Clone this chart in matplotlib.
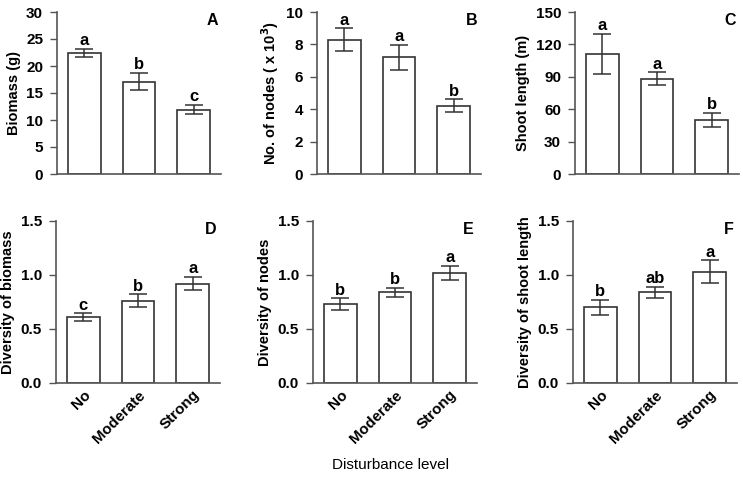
import matplotlib.pyplot as plt
import numpy as np

plt.rcParams['font.family'] = ['Liberation Sans', 'DejaVu Sans']
plt.rcParams['font.weight'] = 'bold'

levels = ['No', 'Moderate', 'Strong']

biomass = [22.4, 17.1, 11.9]
biomass_err = [0.8, 1.6, 0.85]
nodes = [8.3, 7.2, 4.2]
nodes_err = [0.7, 0.78, 0.4]
shoot = [111, 88, 50]
shoot_err = [18.5, 6, 6.5]
div_biomass = [0.61, 0.76, 0.92]
div_biomass_err = [0.035, 0.06, 0.063]
div_nodes = [0.73, 0.84, 1.02]
div_nodes_err = [0.053, 0.042, 0.067]
div_shoot = [0.70, 0.84, 1.03]
div_shoot_err = [0.068, 0.053, 0.105]

letters_A = ['a', 'b', 'c']
letters_B = ['a', 'a', 'b']
letters_C = ['a', 'a', 'b']
letters_D = ['c', 'b', 'a']
letters_E = ['b', 'b', 'a']
letters_F = ['b', 'ab', 'a']

W, H = 743, 478
fig = plt.figure(figsize=(W / 100, H / 100), dpi=100)


def px_axes(left, top, width, height):
    return fig.add_axes([left / W, 1 - (top + height) / H, width / W, height / H])


panels = [
    # left, top, values, errs, letters, ylim, yticks, ylabel, tag, fmt
    (57, 12, biomass, biomass_err, letters_A, 30, np.arange(0, 31, 5), 'Biomass (g)', 'A', '%d'),
    (317, 12, nodes, nodes_err, letters_B, 10, np.arange(0, 11, 2), r'No. of nodes ( x 10$^\mathbf{3}$)', 'B', '%d'),
    (575, 12, shoot, shoot_err, letters_C, 150, np.arange(0, 151, 30), 'Shoot length (m)', 'C', '%d'),
    (56, 221, div_biomass, div_biomass_err, letters_D, 1.5, np.arange(0, 1.51, 0.5), 'Diversity of biomass', 'D', '%.1f'),
    (313, 221, div_nodes, div_nodes_err, letters_E, 1.5, np.arange(0, 1.51, 0.5), 'Diversity of nodes', 'E', '%.1f'),
    (573, 221, div_shoot, div_shoot_err, letters_F, 1.5, np.arange(0, 1.51, 0.5), 'Diversity of shoot length', 'F', '%.1f'),
]

x = np.arange(len(levels))
edge = '#333333'
spine = '#555555'

for i, (left, top, vals, errs, lets, ymax, yt, ylab, tag, fmt) in enumerate(panels):
    ax = px_axes(left, top, 164, 162)
    ax.bar(x, vals, width=0.6, color='white', edgecolor=edge, linewidth=1.2, zorder=2)
    ax.errorbar(x, vals, yerr=errs, fmt='none', ecolor=edge, elinewidth=1.1,
                capsize=6.5, capthick=1.1, zorder=3)
    for xi, v, e, l in zip(x, vals, errs, lets):
        ax.annotate(l, (xi, v + e), xytext=(0, 0.5), textcoords='offset points',
                    ha='center', va='bottom', fontsize=12, fontweight='bold')
    ax.set_xlim(-0.5, 2.5)
    ax.set_ylim(0, ymax)
    ax.set_yticks(yt)
    ax.yaxis.set_major_formatter(plt.FormatStrFormatter(fmt))
    ax.set_ylabel(ylab, fontsize=10.5, fontweight='bold', labelpad=4)
    ax.spines['top'].set_visible(False)
    ax.spines['right'].set_visible(False)
    ax.spines['left'].set_color(spine)
    ax.spines['bottom'].set_color(spine)
    ax.spines['left'].set_linewidth(1.2)
    ax.spines['bottom'].set_linewidth(1.2)
    ax.tick_params(axis='y', direction='out', length=5, width=1, color=spine,
                   labelsize=11, pad=5)
    ax.tick_params(axis='x', length=0)
    ax.text(0.98, 0.995, tag, transform=ax.transAxes, ha='right', va='top',
            fontsize=11.5, fontweight='bold')
    if i < 3:
        ax.set_xticks([])
    else:
        ax.set_xticks(x)
        ax.set_xticklabels(levels, rotation=45, ha='right', rotation_mode='anchor',
                           fontsize=11, fontweight='bold')

fig.text(390 / W, 1 - 465 / H, 'Disturbance level', ha='center', va='center',
         fontsize=11, fontweight='normal')

fig.savefig('out.png', dpi=100)
